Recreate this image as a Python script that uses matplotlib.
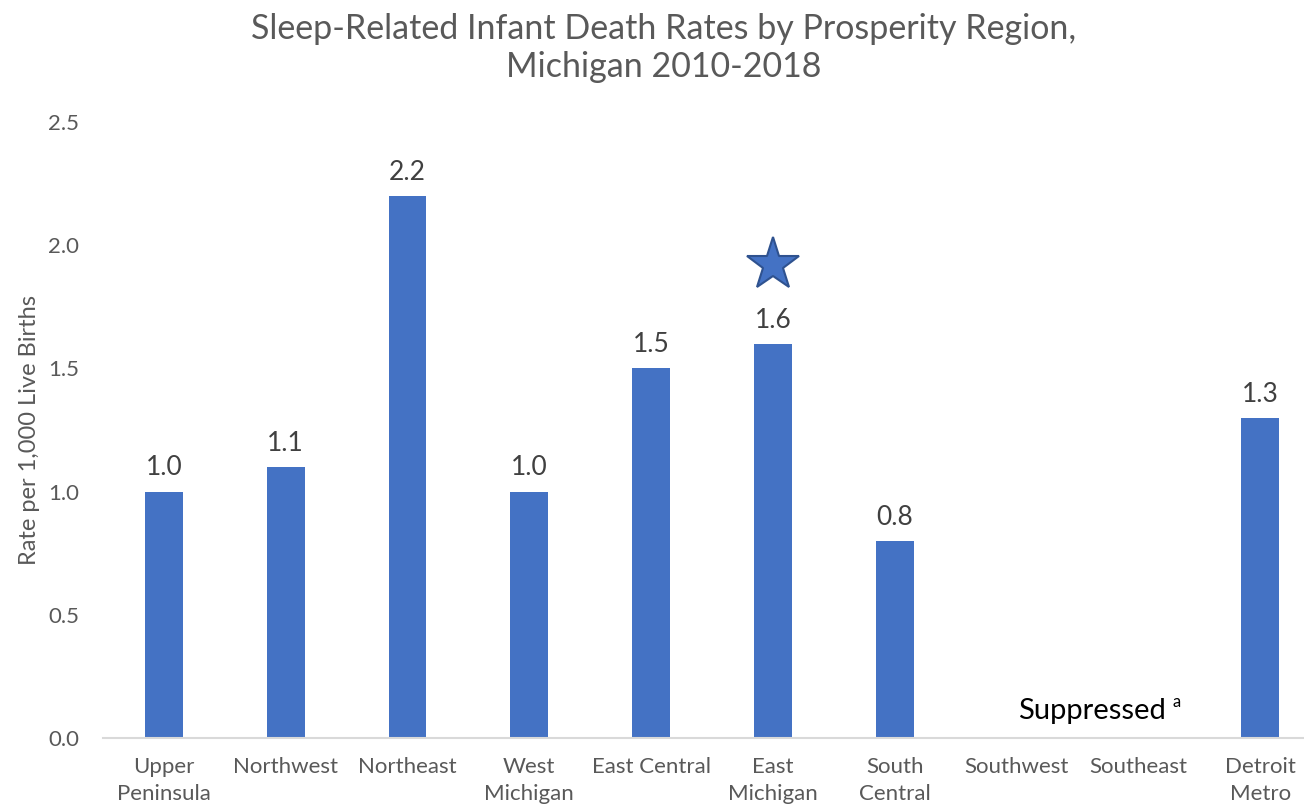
import numpy as np
import matplotlib.pyplot as plt

plt.rcParams['font.family'] = ['Lato', 'DejaVu Sans']

regions = ["Upper\nPeninsula", "Northwest", "Northeast", "West\nMichigan", "East Central",
           "East\nMichigan", "South\nCentral", "Southwest", "Southeast", "Detroit\nMetro"]
rates = [1.0, 1.1, 2.2, 1.0, 1.5, 1.6, 0.8, np.nan, np.nan, 1.3]
star_region = 5
star_y = 1.92

bar_color = "#4472C4"
gray = "#595959"

fig = plt.figure(figsize=(13.04, 8.10), dpi=100)
ax = fig.add_axes([103 / 1304, 72 / 810, 1218 / 1304, 616 / 810])

x = np.arange(len(regions))
vals = np.array(rates, dtype=float)
ax.bar(x, np.nan_to_num(vals), width=0.31, color=bar_color, zorder=2)

for xi, v in zip(x, vals):
    if not np.isnan(v):
        ax.annotate(f"{v:.1f}", (xi, v), xytext=(0, 8), textcoords="offset points",
                    ha="center", va="bottom", fontsize=19, color="#404040")

ax.plot(star_region, star_y, marker="*", markersize=40, color=bar_color,
        markeredgecolor="#2F528F", markeredgewidth=1.5, zorder=3)

ax.text(7.62, 0.11, "Suppressed", ha="center", va="center", fontsize=21, color="black")
ax.text(8.28, 0.145, "a", ha="left", va="center", fontsize=12, color="black")

ax.set_xlim(-0.5, 9.5)
ax.set_ylim(0, 2.5)
ax.set_yticks(np.arange(0, 2.51, 0.5))
ax.set_yticklabels([f"{t:.1f}" for t in np.arange(0, 2.51, 0.5)])
ax.set_xticks(x)
ax.set_xticklabels(regions, linespacing=1.4)
ax.tick_params(axis="both", length=0, labelsize=16, colors=gray)
ax.tick_params(axis="y", pad=17)
ax.tick_params(axis="x", pad=14)

for s in ["top", "right", "left"]:
    ax.spines[s].set_visible(False)
ax.spines["bottom"].set_color("#D9D9D9")
ax.spines["bottom"].set_linewidth(1.5)

fig.text(30 / 1304, 1 - 430 / 810, "Rate per 1,000 Live Births", rotation=90,
         ha="center", va="center", fontsize=17, color=gray)
fig.text(664 / 1304, 1 - 48 / 810, "Sleep-Related Infant Death Rates by Prosperity Region,\nMichigan 2010-2018",
         ha="center", va="center", fontsize=24.5, color=gray, linespacing=1.25)

fig.savefig("out.png", dpi=100)
